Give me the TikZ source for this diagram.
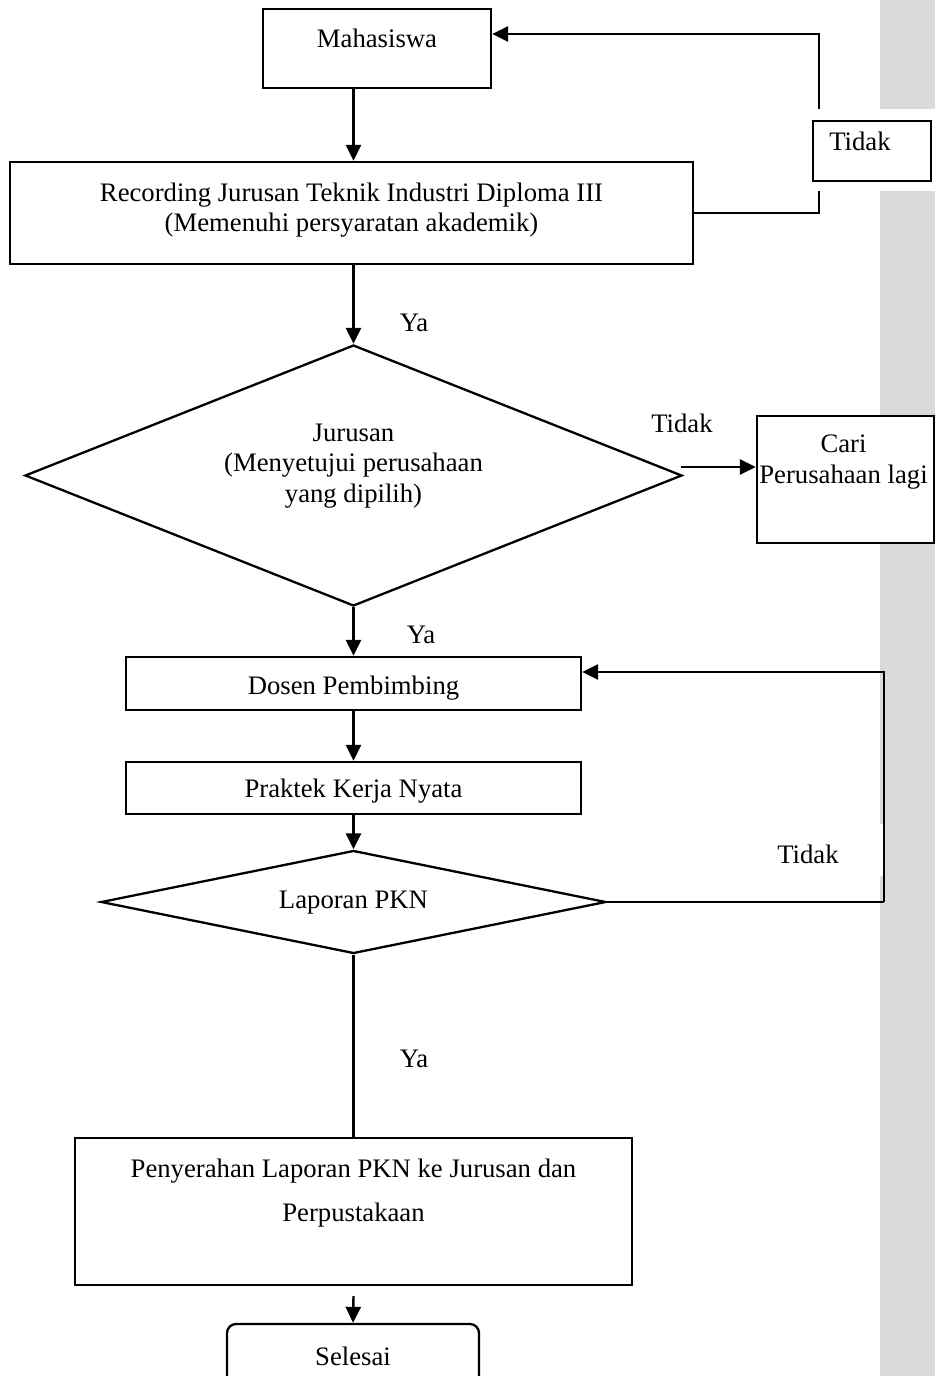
\documentclass[tikz,border=0pt]{standalone}
\usepackage{fontspec}
\setmainfont{Liberation Serif}
\usetikzlibrary{shapes.geometric,arrows.meta,calc}
\definecolor{bargray}{RGB}{217,217,217}
\begin{document}
\begin{tikzpicture}[x=1pt,y=-1pt,
  font=\fontsize{26.7}{30.5}\selectfont,
  box/.style={draw=black,line width=2.3pt,fill=white,inner sep=0pt,rectangle},
  decision/.style={draw=black,line width=2.3pt,fill=white,diamond,inner sep=0pt},
  txt/.style={inner sep=0pt,align=center},
  conn/.style={line width=2.4pt},
  arr/.style={conn,-{Triangle[length=16pt,width=15pt]}}]
\useasboundingbox (0,0) rectangle (935,1376);

% side bar
\fill[bargray] (880,0) rectangle (935,109);
\fill[bargray] (880,191) rectangle (935,824);
\fill[bargray] (883,824) rectangle (935,876);
\fill[bargray] (880,876) rectangle (935,1376);

% boxes
\node[box,minimum width=228,minimum height=79] (mhs) at (377,48.5) {};
\node[txt] at (377,38) {Mahasiswa};

\node[box,minimum width=683,minimum height=102] (rec) at (351.5,213) {};
\node[txt] at (351.5,210) {Recording Jurusan Teknik Industri Diploma III\\(Memenuhi persyaratan akademik)};

\node[box,minimum width=118,minimum height=60] (tdk) at (872,151) {};
\node[txt] at (860,141) {Tidak};

\node[decision,minimum width=657,minimum height=261] (d1) at (353.5,475.5) {};
\node[txt] at (353.5,466) {Jurusan\\(Menyetujui perusahaan\\yang dipilih)};

\node[box,minimum width=177,minimum height=127] (cari) at (845.5,479.5) {};
\node[txt] at (843.5,462) {Cari\\Perusahaan lagi};

\node[box,minimum width=455,minimum height=53] (dos) at (353.5,683.5) {};
\node[txt] at (353.5,688) {Dosen Pembimbing};

\node[box,minimum width=455,minimum height=52] (prk) at (353.5,788) {};
\node[txt] at (353.5,791) {Praktek Kerja Nyata};

\node[decision,minimum width=505,minimum height=103] (d2) at (353.5,902) {};
\node[txt] at (353.5,903) {Laporan PKN};

\node[box,minimum width=557,minimum height=147] (pen) at (353.5,1211.5) {};
\node[txt] at (353.5,1193) {Penyerahan Laporan PKN ke Jurusan dan\\[13.5pt]Perpustakaan};

\node[box,rounded corners=9pt,minimum width=252,minimum height=62] (sel) at (353,1355) {};
\node[txt] at (353,1356) {Selesai};

% labels
\node[txt] at (414,323) {Ya};
\node[txt] at (682,423) {Tidak};
\node[txt] at (421,635) {Ya};
\node[txt] at (808,854) {Tidak};
\node[txt] at (414,1059) {Ya};

% connectors
\draw[arr] (mhs.south -| d1.north) -- (rec.north -| d1.north);
\draw[arr] (d1.north |- rec.south) -- (d1.north);
\draw[arr] (d1.south) -- (dos.north);
\draw[arr] (dos.south) -- (prk.north);
\draw[arr] (prk.south) -- (d2.north);
\draw[conn] (d2.south) -- (pen.north);
\draw[arr] ([yshift=-10pt]pen.south) -- (sel.north);

% back loop to Mahasiswa
\coordinate (lpA) at (819,191);
\coordinate (lpB) at (819,109);
\draw[conn] (rec.east) -| (lpA);
\draw[arr] (lpB) |- ([yshift=14.5pt]mhs.east);

% rejection of the company
\coordinate (tk) at ([shift={(-2,-8.5)}]d1.east);
\draw[arr] (tk) -- (tk -| cari.west);

% back loop to Dosen Pembimbing
\coordinate (lpC) at (884,902);
\draw[conn] (d2.east) -- (lpC);
\draw[arr] (lpC) |- ([yshift=11.5pt]dos.east);
\end{tikzpicture}
\end{document}
